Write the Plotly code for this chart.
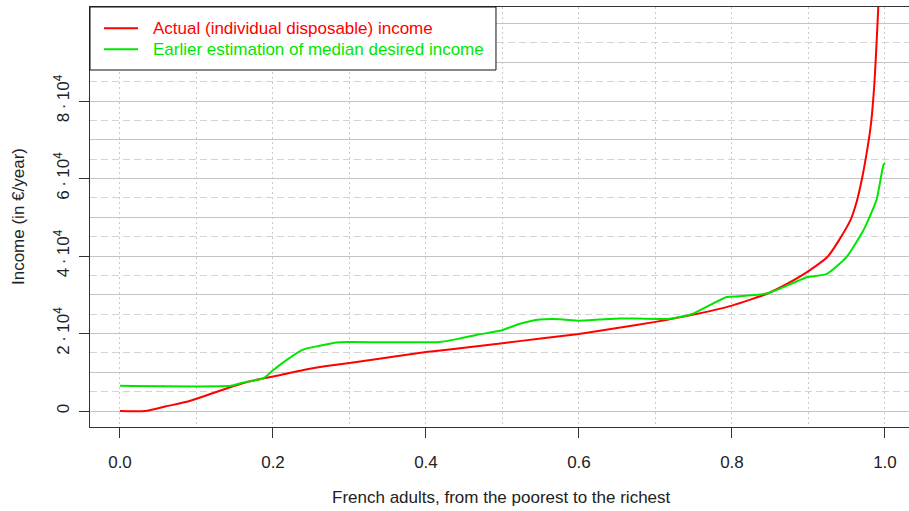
import plotly.graph_objects as go

# ---- data ----
actual_x = [0.0, 0.033, 0.06, 0.09, 0.12, 0.145, 0.17, 0.19, 0.21, 0.24, 0.27, 0.30, 0.35,
            0.40, 0.45, 0.50, 0.55, 0.60, 0.65, 0.70, 0.75, 0.80, 0.845, 0.87, 0.90,
            0.925, 0.94, 0.955, 0.963, 0.97, 0.976, 0.98, 0.983, 0.986, 0.988, 0.990, 0.992,
            0.995, 1.0]
actual_y = [0, 0, 1200, 2500, 4500, 6200, 7700, 8500, 9300, 10600, 11600, 12400, 13800,
            15200, 16300, 17500, 18700, 19900, 21400, 23000, 24900, 27200, 30200, 32600, 36100,
            39800, 44100, 49300, 54000, 60000, 66500, 71500, 76500, 84000, 91000, 99000, 107500,
            125000, 160000]

desired_x = [0.0, 0.145, 0.16, 0.187, 0.20, 0.218, 0.24, 0.26, 0.283, 0.30, 0.418, 0.444,
             0.47, 0.497, 0.523, 0.549, 0.575, 0.60, 0.627, 0.654, 0.719, 0.749, 0.771,
             0.793, 0.81, 0.845, 0.863, 0.898, 0.924, 0.95, 0.972, 0.989, 0.998, 1.0]
desired_y = [6500, 6500, 7300, 8400, 10500, 13200, 15900, 16800, 17700, 17800, 17800, 18700,
             19800, 20700, 22500, 23600, 23700, 23300, 23600, 23900, 23800, 25100, 27300,
             29400, 29600, 30300, 31600, 34500, 35400, 39800, 46700, 54500, 63500, 64000]

series_names = ["Actual (individual disposable) income",
                "Earlier estimation of median desired income"]
series_colors = ["#FF0000", "#00E600"]

x_tickvals = [0.0, 0.2, 0.4, 0.6, 0.8, 1.0]
x_ticktext = ["0.0", "0.2", "0.4", "0.6", "0.8", "1.0"]
y_tickvals = [0, 20000, 40000, 60000, 80000]
y_ticktext = ["0", "2\u2009·\u200910<sup>4</sup>", "4\u2009·\u200910<sup>4</sup>",
              "6\u2009·\u200910<sup>4</sup>", "8\u2009·\u200910<sup>4</sup>"]

x_title = "French adults, from the poorest to the richest"
y_title = "Income (in €/year)"

FONT = "Liberation Sans, Arial, sans-serif"
TXT = "#222222"
YR = [-4130, 104260]

fig = go.Figure()
fig.add_trace(go.Scatter(x=actual_x, y=actual_y, mode="lines", name=series_names[0],
                         line=dict(color=series_colors[0], width=2, shape="spline", smoothing=0.5),
                         showlegend=False))
fig.add_trace(go.Scatter(x=desired_x, y=desired_y, mode="lines", name=series_names[1],
                         line=dict(color=series_colors[1], width=2, shape="spline", smoothing=0.5),
                         showlegend=False))
# empty helper trace so the overlaid grid axis exists
fig.add_trace(go.Scatter(x=[], y=[], yaxis="y2", showlegend=False, hoverinfo="skip"))

fig.update_layout(
    width=909, height=511,
    margin=dict(l=90, r=0, t=7, b=84),
    paper_bgcolor="white", plot_bgcolor="white",
    font=dict(family=FONT, size=17, color=TXT),
    xaxis=dict(range=[-0.0392, 1.0314], tickmode="array", tickvals=x_tickvals, ticktext=x_ticktext,
               ticks="outside", ticklen=10, tickcolor="#333", tickwidth=1,
               showline=True, linecolor="#333", linewidth=1, mirror=True,
               showgrid=True, gridcolor="#c8c8c8", gridwidth=1, griddash="2px,3px",
               minor=dict(dtick=0.1, tick0=0, showgrid=True, gridcolor="#c8c8c8",
                          griddash="2px,3px", ticks=""),
               zeroline=False, ticklabelstandoff=10,
               tickfont=dict(size=17, color=TXT)),
    yaxis=dict(range=YR, tickmode="array", tickvals=y_tickvals, ticktext=y_ticktext,
               tickangle=-90, ticks="outside", ticklen=10, tickcolor="#333", tickwidth=1,
               showline=True, linecolor="#333", linewidth=1, mirror=False,
               showgrid=True, gridcolor="#c4c4c4", gridwidth=1,
               minor=dict(dtick=10000, tick0=0, showgrid=True, gridcolor="#c4c4c4", ticks=""),
               zeroline=False, ticklabelstandoff=3,
               tickfont=dict(size=17, color=TXT)),
    yaxis2=dict(range=YR, overlaying="y", side="left", tickmode="linear", tick0=5000, dtick=10000,
                showgrid=True, gridcolor="#d4d4d4", gridwidth=1, griddash="7px,4px",
                showticklabels=False, ticks="", showline=False, zeroline=False),
)

# axis titles
fig.add_annotation(text=x_title, xref="paper", yref="paper", x=0.503, y=-0.1667,
                   xanchor="center", yanchor="middle", showarrow=False,
                   font=dict(size=17, color=TXT))
fig.add_annotation(text=y_title, xref="paper", yref="paper", x=-0.0879, y=0.5,
                   xanchor="center", yanchor="middle", textangle=-90, showarrow=False,
                   font=dict(size=17, color=TXT))

# legend box
fig.add_shape(type="rect", xref="paper", yref="paper", x0=0, x1=0.4957, y0=0.85, y1=1.0,
              line=dict(color="#111", width=1), fillcolor="white", layer="above")
leg_y = [0.9493, 0.8993]
for name, col, yy in zip(series_names, series_colors, leg_y):
    fig.add_shape(type="line", xref="paper", yref="paper", x0=0.0171, x1=0.0586, y0=yy, y1=yy,
                  line=dict(color=col, width=2), layer="above")
    fig.add_annotation(text=name, xref="paper", yref="paper", x=0.0745, y=yy,
                       xanchor="left", yanchor="middle", showarrow=False,
                       font=dict(size=17, color=col))

fig.write_html("out.html", config={"displayModeBar": False},
               post_script="document.body.style.margin='0';document.body.style.overflow='hidden';")
